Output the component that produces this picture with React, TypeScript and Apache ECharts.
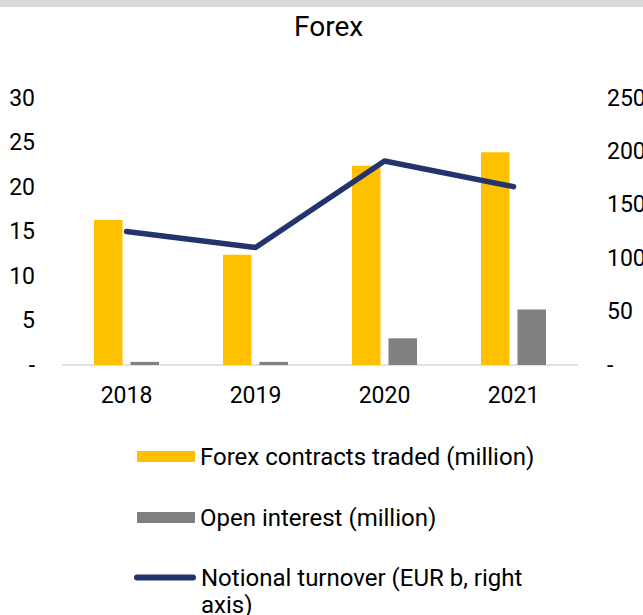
import React, { useEffect, useRef } from "react";
import * as echarts from "echarts";

const categories = ["2018", "2019", "2020", "2021"];
const contractsTraded = [16.3, 12.4, 22.4, 23.9];
const openInterest = [0.35, 0.35, 3.0, 6.25];
const notionalTurnover = [125, 110, 191, 167];
const seriesNames = [
  "Forex contracts traded (million)",
  "Open interest (million)",
  "Notional turnover (EUR b, right axis)",
];

const FONT = "Roboto";
const NAVY = "#24336E";

export default function App() {
  const ref = useRef<HTMLDivElement>(null);
  useEffect(() => {
    if (!ref.current) return;
    const chart = echarts.init(ref.current, null, { renderer: "svg" });
    const zeroDash = (v: number) => (v === 0 ? "-" : String(v));
    const legendText = { fontFamily: FONT, fontSize: 24, color: "#000", lineHeight: 27 };
    chart.setOption({
      animation: false,
      backgroundColor: "#fff",
      textStyle: { fontFamily: FONT },
      title: {
        text: "Forex",
        left: 294,
        top: 12,
        padding: 0,
        textStyle: { fontFamily: FONT, fontSize: 28, fontWeight: "normal", color: "#000" },
      },
      graphic: [
        { type: "rect", left: 0, top: 0, shape: { width: 643, height: 7 }, style: { fill: "#d9d9d9" } },
      ],
      grid: { left: 62, right: 65, top: 98, bottom: 250, outerBoundsMode: "none", containLabel: false },
      legend: [
        {
          data: [{ name: seriesNames[0], icon: "rect" }],
          left: 137,
          top: 443,
          padding: 0,
          itemWidth: 58,
          itemHeight: 11,
          textStyle: legendText,
        },
        {
          data: [{ name: seriesNames[1], icon: "rect" }],
          left: 137,
          top: 504,
          padding: 0,
          itemWidth: 58,
          itemHeight: 11,
          textStyle: legendText,
        },
        {
          data: [
            {
              name: seriesNames[2],
              icon: "path://M3,0 L59,0 A3,3 0 0 1 59,6 L3,6 A3,3 0 0 1 3,0 Z",
            },
          ],
          left: 134,
          top: 537,
          padding: 0,
          itemWidth: 62,
          itemHeight: 6,
          formatter: () => "\nNotional turnover (EUR b, right\naxis)",
          textStyle: legendText,
        },
      ],
      xAxis: {
        type: "category",
        data: categories,
        axisLine: { lineStyle: { color: "#d9d9d9", width: 1.5 } },
        axisTick: { show: false },
        axisLabel: { fontFamily: FONT, fontSize: 23, color: "#000", margin: 19 },
      },
      yAxis: [
        {
          type: "value",
          min: 0,
          max: 30,
          interval: 5,
          splitLine: { show: false },
          axisLine: { show: false },
          axisTick: { show: false },
          axisLabel: { fontFamily: FONT, fontSize: 23, color: "#000", margin: 27, formatter: zeroDash },
        },
        {
          type: "value",
          min: 0,
          max: 250,
          interval: 50,
          position: "right",
          splitLine: { show: false },
          axisLine: { show: false },
          axisTick: { show: false },
          axisLabel: { fontFamily: FONT, fontSize: 23, color: "#000", margin: 29, formatter: zeroDash },
        },
      ],
      series: [
        {
          name: seriesNames[0],
          type: "bar",
          data: contractsTraded,
          barWidth: 28.5,
          barGap: "28%",
          itemStyle: { color: "#FFC000" },
        },
        {
          name: seriesNames[1],
          type: "bar",
          data: openInterest,
          barWidth: 28.5,
          barGap: "28%",
          itemStyle: { color: "#808080" },
        },
        {
          name: seriesNames[2],
          type: "line",
          yAxisIndex: 1,
          data: notionalTurnover,
          symbol: "none",
          lineStyle: { color: NAVY, width: 5.5, cap: "round", join: "round" },
          itemStyle: { color: NAVY },
        },
      ],
    });
    return () => chart.dispose();
  }, []);
  return (
    <div style={{ position: "fixed", left: 0, top: 0, width: 643, height: 615 }}>
      <div ref={ref} style={{ width: 643, height: 615 }} />
    </div>
  );
}
